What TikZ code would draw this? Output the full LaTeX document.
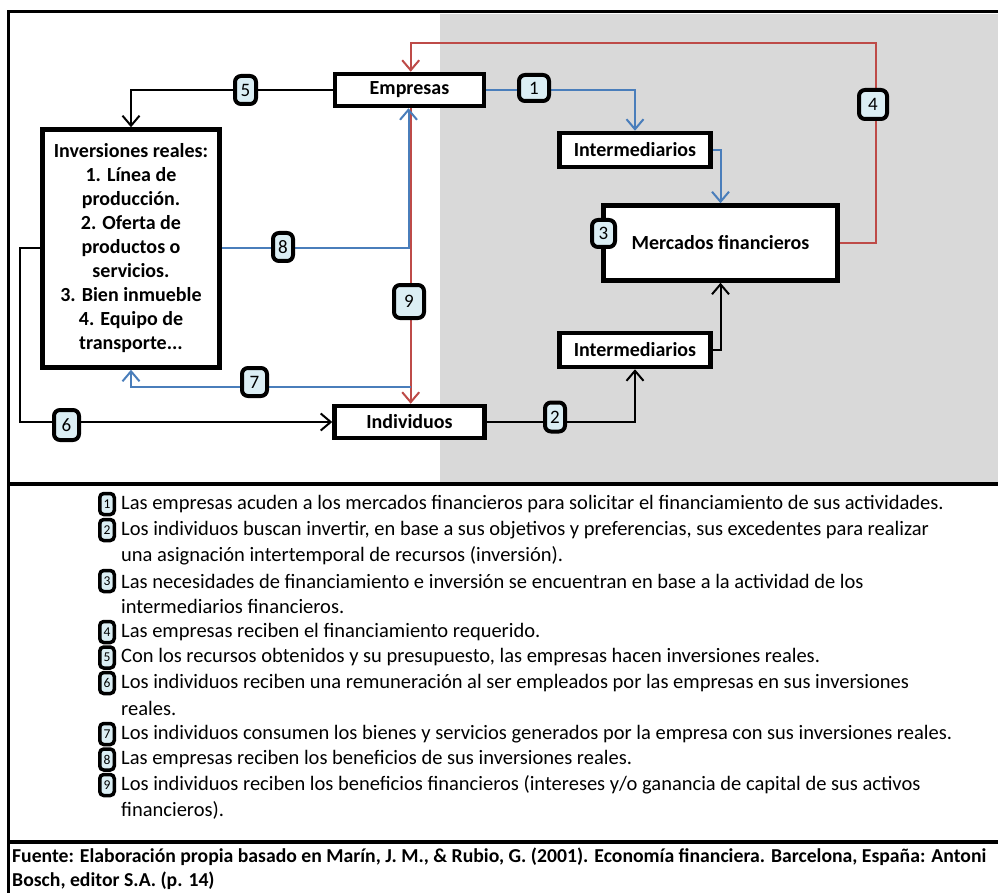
\documentclass[tikz,border=0pt]{standalone}
\usepackage{fontspec}
\setmainfont{Carlito}
\usetikzlibrary{arrows.meta}
\definecolor{bl}{HTML}{4A7EBB}
\definecolor{rd}{HTML}{BE4B48}
\definecolor{gr}{HTML}{D9D9D9}
\definecolor{lb}{HTML}{DBEEF4}
\begin{document}
\begin{tikzpicture}[x=1pt,y=-1pt,
  box/.style={draw=black, line width=4.5pt, fill=white, inner sep=0pt, font=\bfseries\fontsize{20}{24}\selectfont, align=center},
  num/.style={draw=black, line width=4pt, rounded corners=6pt, fill=lb, inner sep=0pt, minimum width=24pt, minimum height=28pt, font=\fontsize{19}{19}\selectfont},
  lnum/.style={draw=black, line width=3.5pt, rounded corners=4pt, fill=lb, inner sep=0pt, minimum width=14.5pt, minimum height=21pt, font=\fontsize{13.5}{13.5}\selectfont},
  conn/.style={line width=2pt, -{Straight Barb[length=10pt,width=17pt]}},
  ltxt/.style={anchor=west, inner sep=0pt, font=\fontsize{20.5}{20.5}\selectfont},
  ftxt/.style={anchor=west, inner sep=0pt, font=\bfseries\fontsize{19.7}{19.7}\selectfont}
]
\useasboundingbox (0,0) rectangle (998,893);
% background and frame
\fill[gr] (440,14) rectangle (1005,483);
\draw[line width=3pt] (8,12) rectangle (1010,910);
\draw[line width=3.5pt] (8,484) -- (1010,484);
\draw[line width=3.5pt] (8,842) -- (1010,842);

% boxes
\node[box, minimum width=149pt, minimum height=32pt] (emp) at (409.5,90) {Empresas};
\node[box, minimum width=150pt, minimum height=32pt] (ind) at (409.5,422) {Individuos};
\node[box, minimum width=151pt, minimum height=34pt] (int1) at (635,150) {Intermediarios};
\node[box, minimum width=151pt, minimum height=34pt] (int2) at (635,350) {Intermediarios};
\node[box, minimum width=234pt, minimum height=75pt] (mer) at (720.5,243) {Mercados financieros};
\node[box, minimum width=177pt, minimum height=238pt] (inv) at (131,248.5) {Inversiones reales:\\1. Línea de\\producción.\\2. Oferta de\\productos o\\servicios.\\3. Bien inmueble\\4. Equipo de\\transporte...};

% helper coordinates
\coordinate (r4) at (876,43);
\coordinate (l6) at (20,248.5);
\coordinate (s7) at (410.5,387);

% connectors
\draw[conn] (emp.west) -| (inv.north);
\draw[conn,bl] (emp.east) -| (int1.north);
\draw[conn,bl] (int1.east) -| (mer.north);
\draw[conn,rd] (mer.east) -| (r4) -| ([xshift=1.2pt]emp.north);
\draw[conn] (ind.east) -| (int2.south);
\draw[conn] (int2.east) -| (mer.south);
\draw[conn] (inv.west) -- (l6) |- (ind.west);
\draw[conn,rd] ([xshift=1.2pt]emp.south) -- ([xshift=1.2pt]ind.north);
\draw[conn,bl] (inv.east) -| ([xshift=-1pt]emp.south);
\draw[conn,bl] (s7) -| (inv.south);

% number labels
\node[num, minimum width=30pt, minimum height=26pt] (n1) at (534,88) {1};
\node[num, minimum width=20pt, minimum height=29pt] (n2) at (555,417) {2};
\node[num, minimum width=23pt, minimum height=27pt] (n3) at (603.5,233.5) {3};
\node[num, minimum width=28pt, minimum height=29pt] (n4) at (873,104.5) {4};
\node[num, minimum width=21pt, minimum height=28pt] (n5) at (245.5,90) {5};
\node[num, minimum width=25pt, minimum height=30pt] (n6) at (66.5,425) {6};
\node[num, minimum width=25pt, minimum height=28pt] (n7) at (254.5,382) {7};
\node[num, minimum width=20pt, minimum height=28pt] (n8) at (283,247) {8};
\node[num, minimum width=30pt, minimum height=33pt] (n9) at (409,301.5) {9};

% legend
\node[lnum] (m1) at (107,504) {1};
\node[ltxt] (t1) at (121,504) {Las empresas acuden a los mercados financieros para solicitar el financiamiento de sus actividades.};
\node[lnum] (m2) at (107,530) {2};
\node[ltxt] (t2) at (121,530) {Los individuos buscan invertir, en base a sus objetivos y preferencias, sus excedentes para realizar};
\node[ltxt] (t2b) at (121,555.5) {una asignación intertemporal de recursos (inversión).};
\node[lnum] (m3) at (107,581) {3};
\node[ltxt] (t3) at (121,581) {Las necesidades de financiamiento e inversión se encuentran en base a la actividad de los};
\node[ltxt] (t3b) at (121,606.5) {intermediarios financieros.};
\node[lnum] (m4) at (107,632) {4};
\node[ltxt] (t4) at (121,632) {Las empresas reciben el financiamiento requerido.};
\node[lnum] (m5) at (107,657.5) {5};
\node[ltxt] (t5) at (121,657.5) {Con los recursos obtenidos y su presupuesto, las empresas hacen inversiones reales.};
\node[lnum] (m6) at (107,683) {6};
\node[ltxt] (t6) at (121,683) {Los individuos reciben una remuneración al ser empleados por las empresas en sus inversiones};
\node[ltxt] (t6b) at (121,708.5) {reales.};
\node[lnum] (m7) at (107,734) {7};
\node[ltxt] (t7) at (121,734) {Los individuos consumen los bienes y servicios generados por la empresa con sus inversiones reales.};
\node[lnum] (m8) at (107,759.5) {8};
\node[ltxt] (t8) at (121,759.5) {Las empresas reciben los beneficios de sus inversiones reales.};
\node[lnum] (m9) at (107,785) {9};
\node[ltxt] (t9) at (121,785) {Los individuos reciben los beneficios financieros (intereses y/o ganancia de capital de sus activos};
\node[ltxt] (t9b) at (121,810.5) {financieros).};

% footer
\node[ftxt] (f1) at (12,857) {Fuente: Elaboración propia basado en Marín, J. M., \& Rubio, G. (2001). Economía financiera. Barcelona, España: Antoni};
\node[ftxt] (f2) at (12,881) {Bosch, editor S.A. (p. 14)};
\end{tikzpicture}
\end{document}
